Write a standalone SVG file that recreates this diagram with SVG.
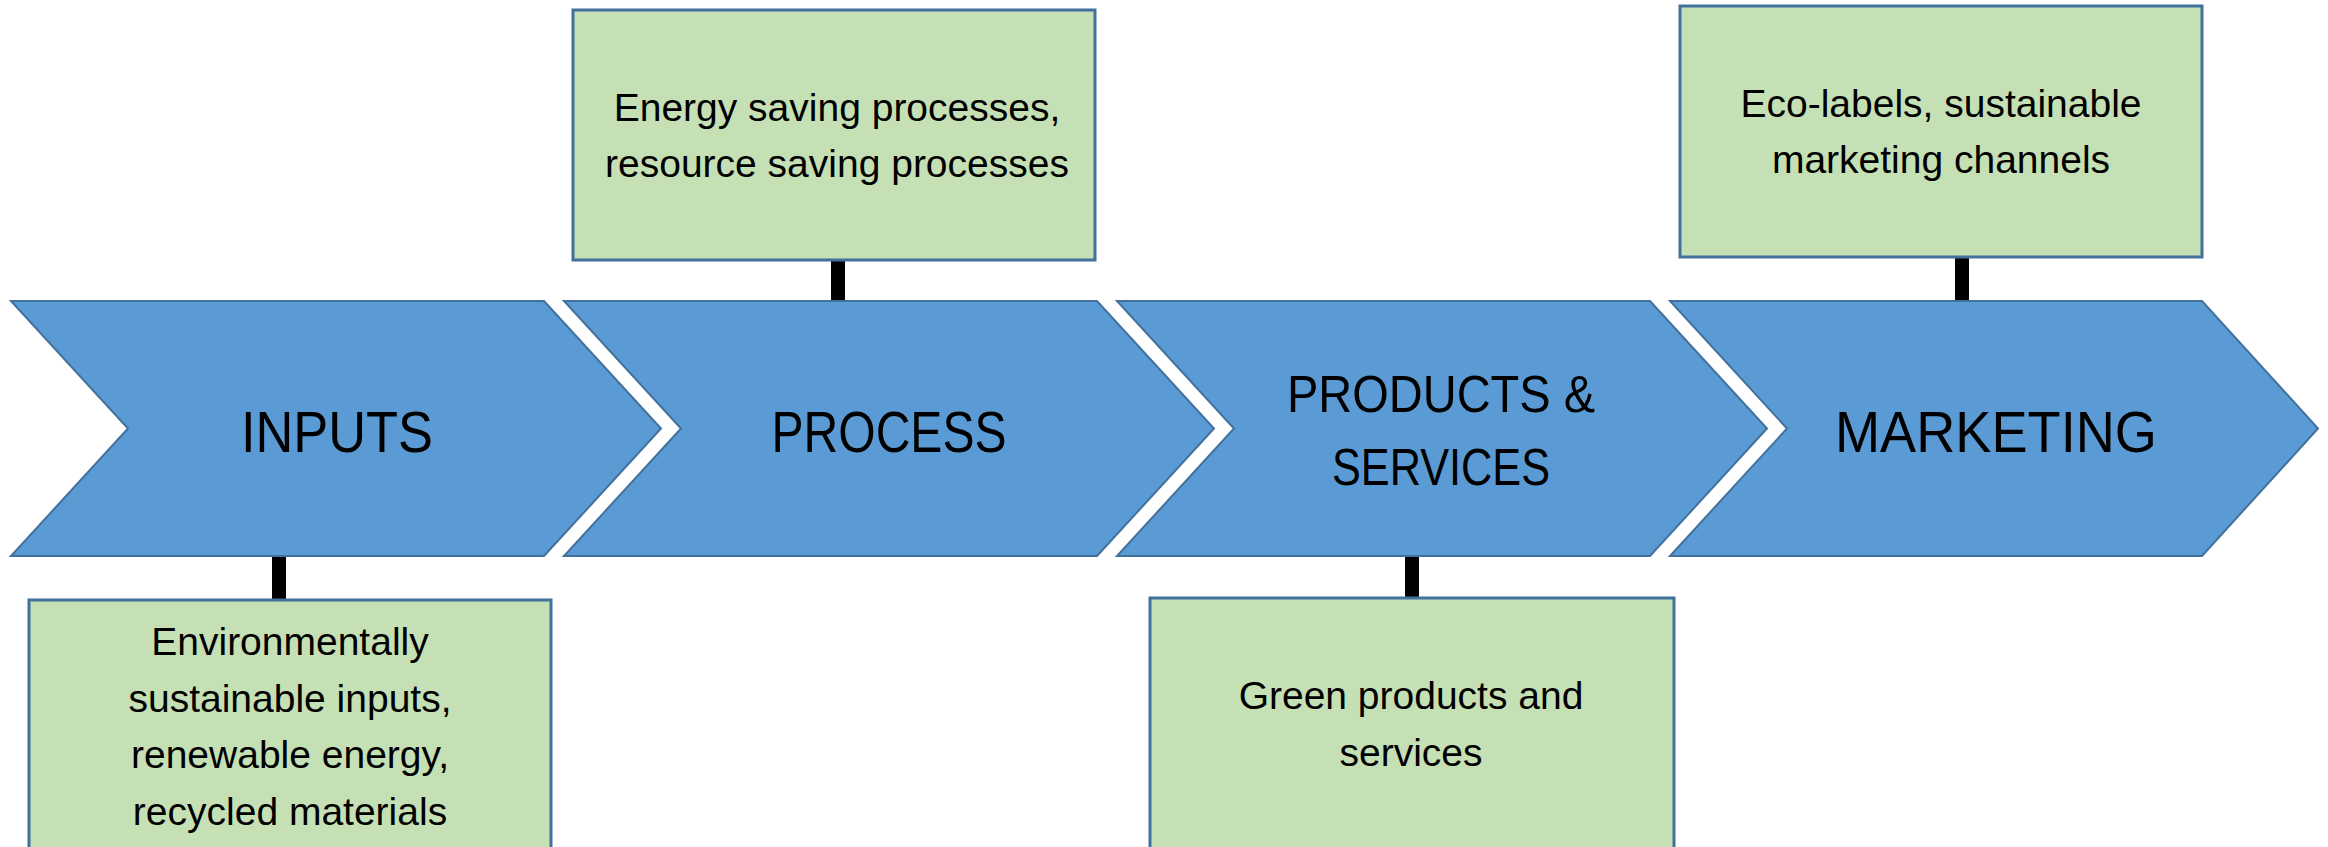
<svg xmlns="http://www.w3.org/2000/svg" width="2328" height="847" viewBox="0 0 2328 847">
<style>
.chev{fill:#5b9bd5;stroke:#41719c;stroke-width:2}
.box{fill:#c5e0b4;stroke:#41719c;stroke-width:3}
.conn{stroke:#000;stroke-width:14;fill:none}
.lbl{font-family:"Liberation Sans",Arial,sans-serif;font-size:57px;fill:#000;text-anchor:middle}
.lbl2{font-family:"Liberation Sans",Arial,sans-serif;font-size:52px;fill:#000;text-anchor:middle}
.txt{font-family:"Liberation Sans",Arial,sans-serif;font-size:39px;fill:#000;text-anchor:middle}
</style>
<rect width="2328" height="847" fill="#fff"/>
<g id="connectors">
<line class="conn" x1="279" y1="556" x2="279" y2="600"/>
<line class="conn" x1="838" y1="260" x2="838" y2="301"/>
<line class="conn" x1="1412" y1="556" x2="1412" y2="598"/>
<line class="conn" x1="1962" y1="257" x2="1962" y2="301"/>
</g>
<g id="inputs">
<polygon class="chev" points="11,301 544,301 661,428.5 544,556 11,556 128,428.5"/>
<text class="lbl" x="337" y="452" textLength="192" lengthAdjust="spacingAndGlyphs">INPUTS</text>
</g>
<g id="process">
<polygon class="chev" points="564,301 1097,301 1214,428.5 1097,556 564,556 681,428.5"/>
<text class="lbl" x="889" y="452" textLength="235" lengthAdjust="spacingAndGlyphs">PROCESS</text>
</g>
<g id="products">
<polygon class="chev" points="1117,301 1650,301 1767,428.5 1650,556 1117,556 1234,428.5"/>
<text class="lbl2" x="1441" y="412" textLength="308" lengthAdjust="spacingAndGlyphs">PRODUCTS &amp;</text>
<text class="lbl2" x="1441" y="485" textLength="218" lengthAdjust="spacingAndGlyphs">SERVICES</text>
</g>
<g id="marketing">
<polygon class="chev" points="1670,301 2202,301 2318,428.5 2202,556 1670,556 1787,428.5"/>
<text class="lbl" x="1996" y="452" textLength="322" lengthAdjust="spacingAndGlyphs">MARKETING</text>
</g>
<g id="box-inputs">
<rect class="box" x="29" y="600" width="522" height="270"/>
<text class="txt" x="290" y="655">Environmentally</text>
<text class="txt" x="290" y="712">sustainable inputs,</text>
<text class="txt" x="290" y="768">renewable energy,</text>
<text class="txt" x="290" y="825">recycled materials</text>
</g>
<g id="box-process">
<rect class="box" x="573" y="10" width="522" height="250"/>
<text class="txt" x="837" y="121">Energy saving processes,</text>
<text class="txt" x="837" y="177">resource saving processes</text>
</g>
<g id="box-products">
<rect class="box" x="1150" y="598" width="524" height="270"/>
<text class="txt" x="1411" y="709">Green products and</text>
<text class="txt" x="1411" y="766">services</text>
</g>
<g id="box-marketing">
<rect class="box" x="1680" y="6" width="522" height="251"/>
<text class="txt" x="1941" y="117">Eco-labels, sustainable</text>
<text class="txt" x="1941" y="173">marketing channels</text>
</g>
</svg>
